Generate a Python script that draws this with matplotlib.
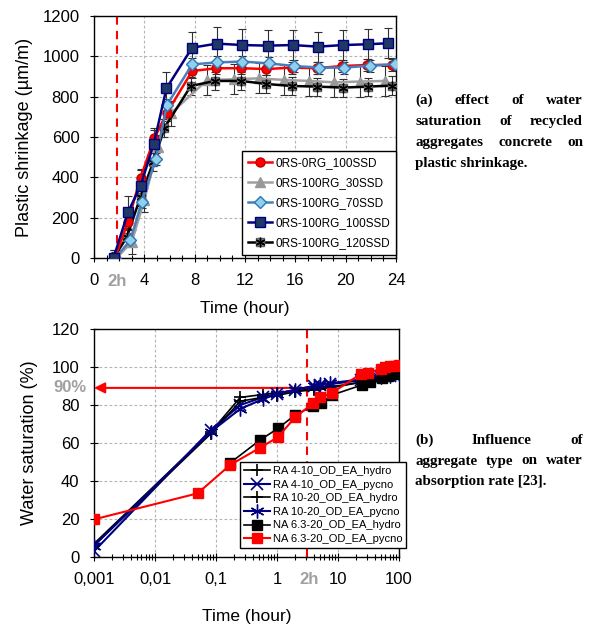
import matplotlib
matplotlib.use('Agg')
import matplotlib.pyplot as plt
from matplotlib.ticker import MultipleLocator, LogLocator, FixedLocator, NullFormatter
from matplotlib.transforms import blended_transform_factory

plt.rcParams['font.family'] = 'Liberation Sans'

# ---- (a) plastic shrinkage data ----
shr_labels = ['0RS-0RG_100SSD', '0RS-100RG_30SSD', '0RS-100RG_70SSD',
              '0RS-100RG_100SSD', '0RS-100RG_120SSD']
t_red = [1.7, 2.7, 3.7, 4.8, 5.8, 7.8, 9.7, 11.7, 13.7, 15.7, 17.7, 19.7, 21.7, 23.7]
s_red = [5, 180, 398, 595, 720, 927, 941, 941, 937, 944, 941, 952, 957, 957]
e_red = [25, 40, 40, 40, 40, 35, 30, 30, 30, 30, 30, 30, 30, 30]

t_gray = [1.8, 3.0, 4.0, 5.1, 6.1, 9.0, 11.1, 13.1, 15.1, 17.1, 19.1, 21.1, 23.1]
s_gray = [0, 80, 288, 552, 717, 883, 886, 891, 883, 878, 871, 875, 878]
e_gray = [40, 60, 60, 60, 60, 75, 75, 75, 75, 75, 75, 75, 75]

t_lblue = [1.7, 2.9, 3.8, 4.9, 5.8, 7.8, 9.8, 11.8, 13.9, 15.9, 17.9, 19.9, 21.9, 23.9]
s_lblue = [0, 89, 279, 490, 759, 960, 970, 974, 965, 952, 944, 944, 954, 961]
e_lblue = [20, 30, 30, 30, 30, 30, 30, 30, 30, 30, 30, 30, 30, 30]

t_dblue = [1.55, 2.7, 3.7, 4.75, 5.76, 7.8, 9.76, 11.8, 13.8, 15.8, 17.8, 19.8, 21.8, 23.4]
s_dblue = [0, 226, 359, 565, 842, 1043, 1063, 1056, 1053, 1056, 1048, 1056, 1060, 1065]
e_dblue = [40, 80, 80, 80, 80, 80, 80, 80, 80, 75, 75, 75, 75, 75]

t_black = [1.55, 2.6, 3.7, 4.7, 5.6, 7.7, 9.6, 11.7, 13.7, 15.7, 17.7, 19.8, 21.8, 23.7]
s_black = [0, 102, 304, 474, 646, 853, 878, 878, 863, 853, 850, 845, 850, 855]
e_black = [40, 45, 45, 45, 45, 45, 45, 45, 45, 45, 45, 45, 45, 45]

# ---- (b) water saturation data ----
ws_labels = ['RA 4-10_OD_EA_hydro', 'RA 4-10_OD_EA_pycno', 'RA 10-20_OD_EA_hydro',
             'RA 10-20_OD_EA_pycno', 'NA 6.3-20_OD_EA_hydro', 'NA 6.3-20_OD_EA_pycno']
t_ra = [0.001, 0.083, 0.25, 0.58, 1.0, 2.0, 4.0, 5.0, 7.5, 24, 32, 50, 72, 100]
ra410_h = [7, 66, 84, 85.5, 86.5, 87.5, 88.5, 89, 89.5, 92, 93, 94.5, 95.5, 96.5]
ra410_p = [3, 67, 80, 84, 86, 88, 90, 90.5, 91, 93, 93.5, 95, 95.5, 96]
ra1020_h = [6, 65, 82, 84, 85, 87, 88, 88.5, 89, 92, 93, 94.5, 96, 97]
ra1020_p = [6, 66, 78, 83, 86, 88, 90, 91, 91.5, 93.5, 94, 95, 95.5, 96.5]
t_na_h = [0.17, 0.53, 1.04, 1.97, 3.94, 5.3, 7.9, 24.5, 33, 52, 67, 85, 100]
na_h = [49.5, 61.6, 67.7, 74.7, 79.5, 80.9, 85.2, 90.5, 92.2, 94.3, 95.2, 96.1, 96.8]
t_na_p = [0.001, 0.05, 0.17, 0.52, 1.03, 1.97, 3.94, 5.07, 7.9, 23.5, 31.5, 50, 60, 72, 85, 100]
na_p = [19.8, 33.5, 48.4, 57.4, 63.0, 73.5, 81, 84, 86.3, 96.3, 97, 99, 99.8, 100.3, 100.6, 100.8]

cap_a = ['(a) effect of water', 'saturation of recycled',
         'aggregates concrete on', 'plastic shrinkage.']
cap_b = ['(b) Influence of', 'aggregate type on water', 'absorption rate [23].']

W, H = 595, 629
fig = plt.figure(figsize=(W / 100, H / 100), dpi=100)


def style(ax):
    ax.grid(True, which='major', color='#b4b4b4', linestyle=(0, (2.5, 2)), linewidth=0.8)
    ax.set_axisbelow(True)
    for s in ax.spines.values():
        s.set_linewidth(1.0)
        s.set_color('black')
    ax.tick_params(which='both', direction='inout', labelsize=12, pad=7.5)
    ax.tick_params(which='major', length=6, width=0.8)
    ax.tick_params(which='minor', length=4, width=0.8)


# ---------------- top chart ----------------
ax1 = fig.add_axes([94 / W, 1 - 258 / H, 302 / W, 242 / H])
style(ax1)
ax1.set_xlim(0, 24)
ax1.set_ylim(0, 1200)
ax1.xaxis.set_major_locator(MultipleLocator(4))
ax1.xaxis.set_minor_locator(MultipleLocator(1))
ax1.yaxis.set_major_locator(MultipleLocator(200))
ax1.axvline(1.8, color='#ff0000', lw=1.5, ls=(0, (4, 3)), zorder=1.5)

ebkw = dict(fmt='none', ecolor='#303030', elinewidth=0.8, capsize=3.2, capthick=0.8, zorder=2)
ax1.errorbar(t_gray, s_gray, yerr=e_gray, **ebkw)
ax1.errorbar(t_black, s_black, yerr=e_black, **ebkw)
ax1.errorbar(t_red, s_red, yerr=e_red, **ebkw)
ax1.errorbar(t_lblue, s_lblue, yerr=e_lblue, **ebkw)
ax1.errorbar(t_dblue, s_dblue, yerr=e_dblue, **ebkw)

h_gray, = ax1.plot(t_gray, s_gray, color='#a0a0a0', lw=1.8, marker='^', ms=6.5,
                   mfc='#999999', mec='#999999', zorder=3)
h_black, = ax1.plot(t_black, s_black, color='black', lw=1.8, marker='s', ms=6,
                    mfc='#808080', mec='#606060', zorder=3)
h_black2, = ax1.plot(t_black, s_black, ls='none', marker=(6, 2, 0), ms=7,
                     mec='black', mew=1.0, zorder=3.1)
h_red, = ax1.plot(t_red, s_red, color='#ff0000', lw=1.8, marker='o', ms=6.5,
                  mfc='#ff0000', mec='#c00000', zorder=3.2)
h_lblue, = ax1.plot(t_lblue, s_lblue, color='#4a7ebb', lw=1.8, marker='D', ms=6,
                    mfc='#8fd0ec', mec='#2e75b6', zorder=3.3)
h_dblue, = ax1.plot(t_dblue, s_dblue, color='#000080', lw=1.8, marker='s', ms=6.5,
                    mfc='#1f3864', mec='#000080', zorder=3.4)

ax1.legend([h_red, h_gray, h_lblue, h_dblue, (h_black, h_black2)], shr_labels,
           loc='lower right', bbox_to_anchor=(1.0, 0.012), fontsize=8.5,
           fancybox=False, edgecolor='black', framealpha=1, handlelength=2.0,
           labelspacing=0.68, borderpad=0.5, handletextpad=0.3, borderaxespad=0)
ax1.set_xlabel('Time (hour)', fontsize=12.5, va='center')
ax1.set_ylabel('Plastic shrinkage (\u00b5m/m)', fontsize=13, va='center')
ax1.xaxis.set_label_coords(0.5, (258 - 308.3) / 242)
ax1.yaxis.set_label_coords((25 - 94) / 302, 0.5)
ax1.text(1.85, (258 - 281.7) / 242, '2h', transform=blended_transform_factory(ax1.transData, ax1.transAxes),
         ha='center', va='center', fontsize=12, fontweight='bold', color='#a0a0a0')

# ---------------- bottom chart ----------------
ax2 = fig.add_axes([94 / W, 1 - 557 / H, 305 / W, 228 / H])
style(ax2)
ax2.set_xscale('log')
ax2.set_xlim(0.001, 100)
ax2.set_ylim(0, 120)
ax2.xaxis.set_major_locator(FixedLocator([0.001, 0.01, 0.1, 1, 10, 100]))
ax2.set_xticklabels(['0,001', '0,01', '0,1', '1', '10', '100'])
ax2.xaxis.set_minor_locator(LogLocator(base=10, subs=range(2, 10)))
ax2.xaxis.set_minor_formatter(NullFormatter())
ax2.yaxis.set_major_locator(MultipleLocator(20))
ax2.axvline(3.15, color='#ff0000', lw=1.5, ls=(0, (4, 3)), zorder=1.5)
ax2.annotate('', xy=(0.001, 89), xytext=(3.15, 89),
             arrowprops=dict(arrowstyle='-|>', color='#ff0000', lw=1.5,
                             mutation_scale=16, shrinkA=0, shrinkB=0), zorder=2)

hb1, = ax2.plot(t_ra, ra410_h, color='black', lw=1.2, marker='+', ms=8, mew=1.2, zorder=3)
hb2, = ax2.plot(t_ra, ra410_p, color='#000080', lw=1.5, marker='x', ms=8, mew=1.2, zorder=3)
hb3, = ax2.plot(t_ra, ra1020_h, color='black', lw=1.2, marker='+', ms=8, mew=1.2, zorder=3)
hb4, = ax2.plot(t_ra, ra1020_p, color='#000080', lw=1.5, marker=(6, 2, 0), ms=10, mew=1.0, zorder=3)
hb5, = ax2.plot(t_na_h, na_h, color='black', lw=1.2, marker='s', ms=6.5, zorder=3.5)
hb6, = ax2.plot(t_na_p, na_p, color='#ff0000', lw=1.5, marker='s', ms=6.5, zorder=3.6)

ax2.legend([hb1, hb2, hb3, hb4, hb5, hb6], ws_labels, loc='lower right',
           bbox_to_anchor=(1.023, 0.04), fontsize=8, fancybox=False, edgecolor='black',
           framealpha=1, handlelength=2.4, labelspacing=0.32, borderpad=0.35,
           handletextpad=0.2, borderaxespad=0)
ax2.set_xlabel('Time (hour)', fontsize=12.5, va='center')
ax2.set_ylabel('Water saturation (%)', fontsize=13, va='center')
ax2.xaxis.set_label_coords(0.5, (557 - 616.7) / 228)
ax2.yaxis.set_label_coords((29 - 94) / 305, 0.5)
ax2.text(3.4, (557 - 580) / 228, '2h', transform=blended_transform_factory(ax2.transData, ax2.transAxes),
         ha='center', va='center', fontsize=12, fontweight='bold', color='#a0a0a0')
ax2.text((87 - 94) / 305, 89, '90%', transform=blended_transform_factory(ax2.transAxes, ax2.transData),
         ha='right', va='center', fontsize=12, fontweight='bold', color='#a0a0a0')

# ---------------- justified captions ----------------
renderer = fig.canvas.get_renderer()
cap_font = dict(fontsize=10.8, fontweight='bold', family='Liberation Serif', va='baseline', ha='left')


def caption(lines, x0, x1, y_first, dy):
    for i, line in enumerate(lines):
        y = 1 - (y_first + i * dy) / H
        if i == len(lines) - 1:
            fig.text(x0 / W, y, line, **cap_font)
            continue
        words = line.split()
        texts = [fig.text(0, y, w, **cap_font) for w in words]
        widths = [t.get_window_extent(renderer).width for t in texts]
        gap = (x1 - x0 - sum(widths)) / (len(words) - 1)
        x = x0
        for t, w in zip(texts, widths):
            t.set_x(x / W)
            x += w + gap


caption(cap_a, 415, 583, 103.5, 21.2)
caption(cap_b, 415, 583, 443.5, 21.0)

fig.savefig('out.png', dpi=100)
